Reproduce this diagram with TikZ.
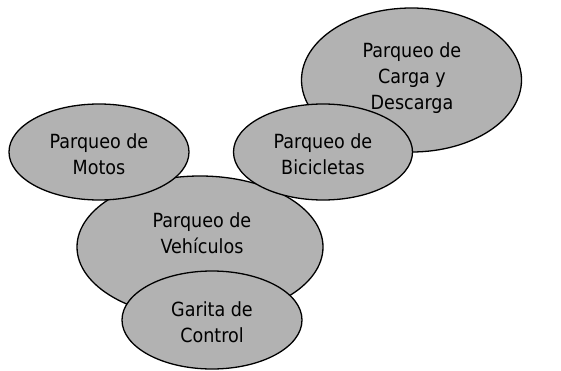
\documentclass[tikz,border=0pt]{standalone}
\usepackage{fontspec}
\setmainfont{DejaVu Sans Condensed}
\usetikzlibrary{shapes.geometric}
\definecolor{ellfill}{RGB}{178,178,178}
\tikzset{
  blob/.style={ellipse, draw=black, line width=1.3pt, fill=ellfill, inner sep=0pt},
  lbl/.style={align=center, inner sep=0pt, font=\fontsize{19.5}{26}\selectfont}
}
\begin{document}
\begin{tikzpicture}[x=1pt,y=1pt]
\useasboundingbox (0,0) rectangle (561,370);
\node[blob, minimum width=246pt, minimum height=142pt] (veh) at (200,123) {};
\node[blob, minimum width=220pt, minimum height=144pt] (carga) at (411.5,290) {};
\node[blob, minimum width=180pt, minimum height=96pt] (motos) at (99,218) {};
\node[blob, minimum width=179pt, minimum height=96pt] (bici) at (323,218) {};
\node[blob, minimum width=180pt, minimum height=98pt] (garita) at (212,50) {};
\node[lbl] (tcarga) at (412,292) {Parqueo de\\Carga y\\Descarga};
\node[lbl] (tmotos) at (99,216) {Parqueo de\\Motos};
\node[lbl] (tbici) at (323,216) {Parqueo de\\Bicicletas};
\node[lbl] (tveh) at (202,137) {Parqueo de\\Vehículos};
\node[lbl] (tgarita) at (212,48) {Garita de\\Control};
\end{tikzpicture}
\end{document}
